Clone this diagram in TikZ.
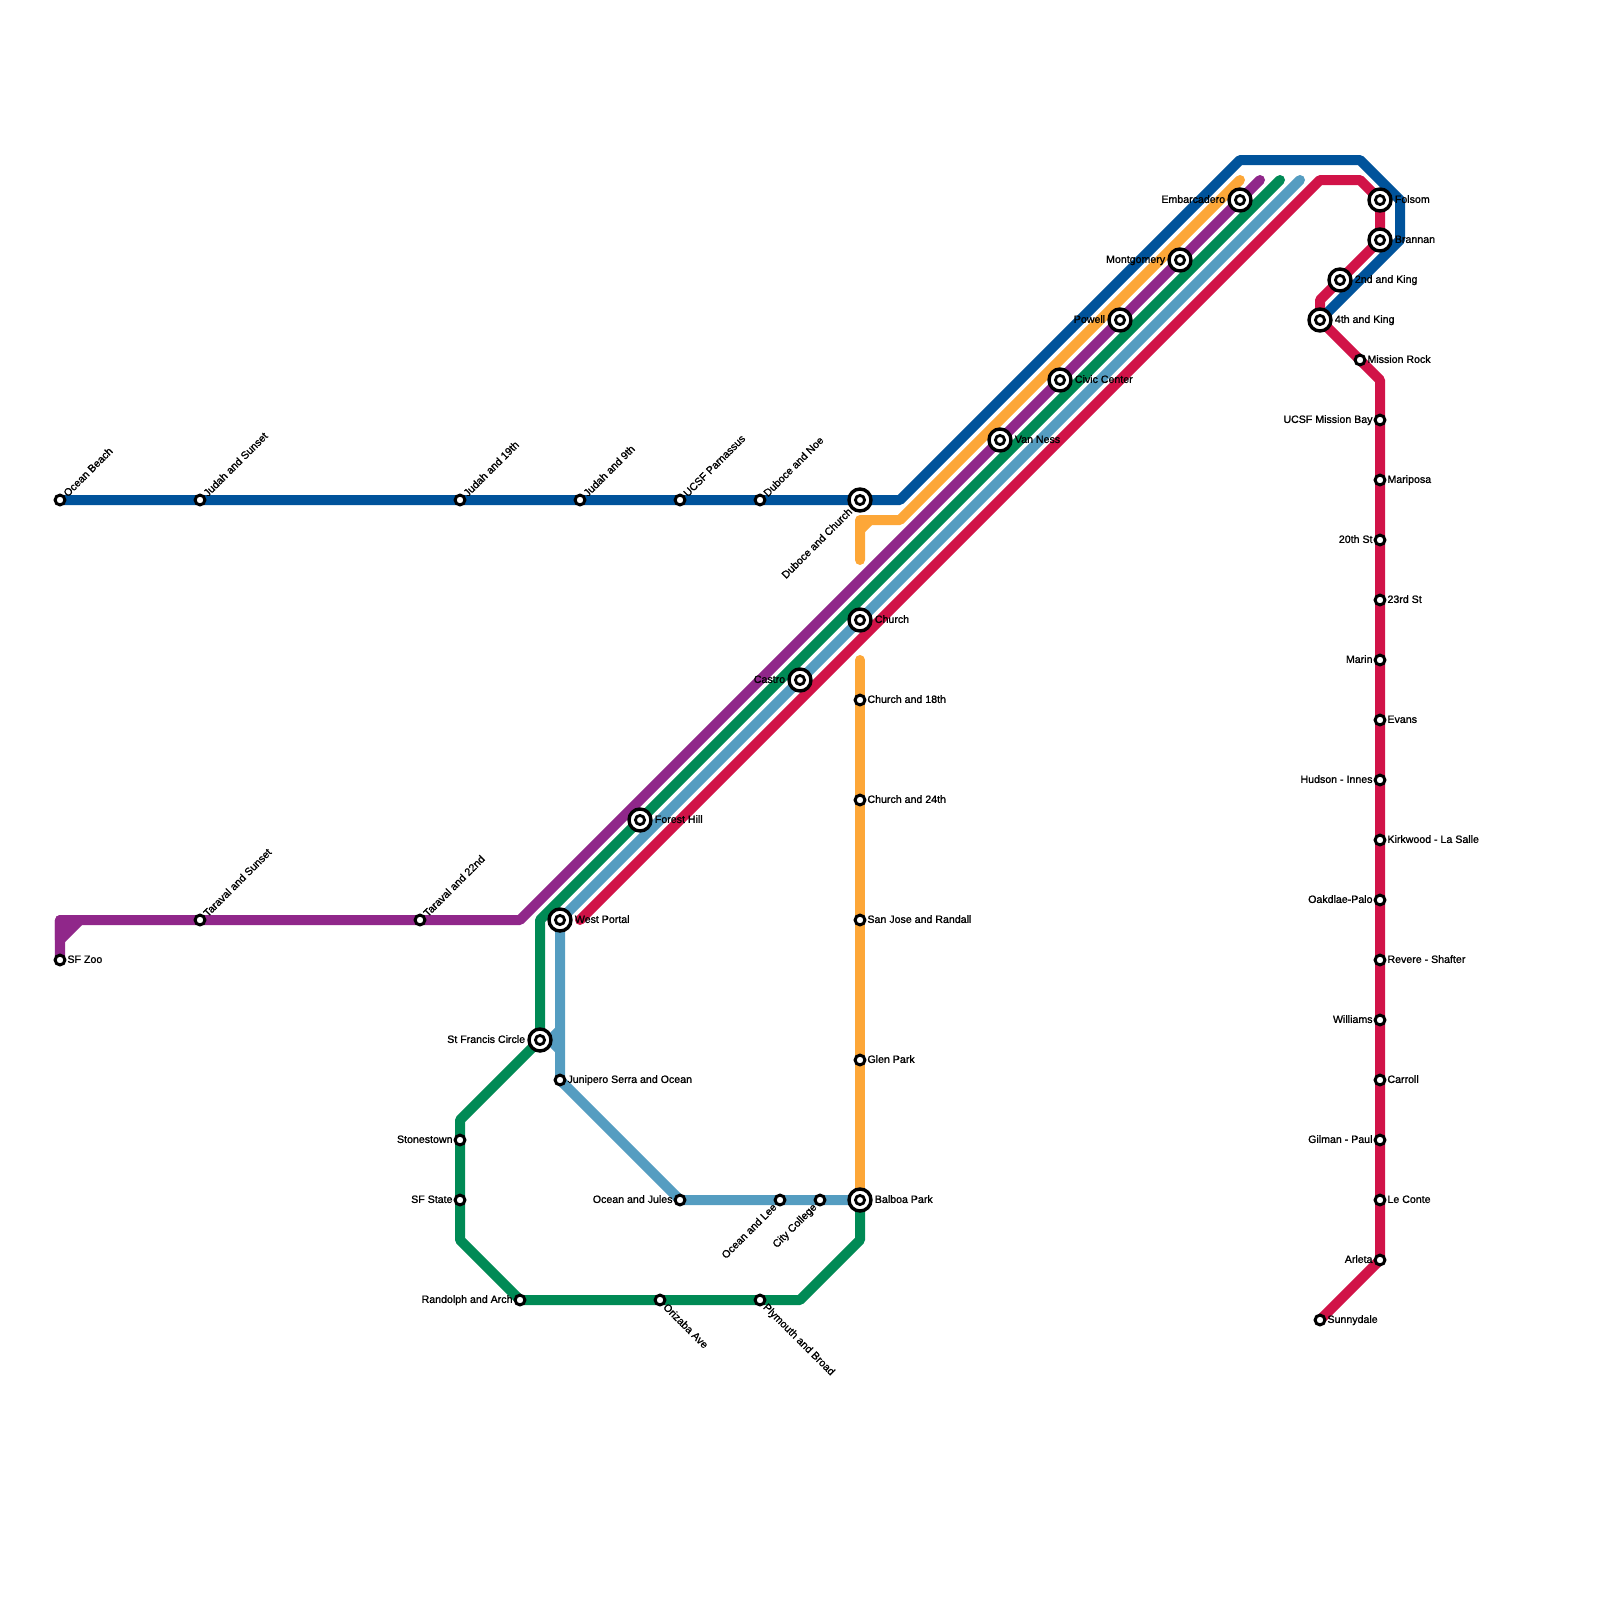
\documentclass[tikz,border=0pt]{standalone}
\usepackage{fontspec}
\usepackage{xcolor}
\usepackage{tikz}
\usetikzlibrary{backgrounds}
\setmainfont{Liberation Sans}
\newfontfamily\stnfont{Liberation Sans}[FakeBold=1.2]

\definecolor{lineN}{HTML}{00539B}
\definecolor{lineT}{HTML}{FDA738}
\definecolor{lineL}{HTML}{90278A}
\definecolor{lineM}{HTML}{008A55}
\definecolor{lineJ}{HTML}{559DC1}
\definecolor{lineK}{HTML}{D11348}

\tikzset{
  track/.style={line width=0.25cm, line cap=round, line join=round},
  stnsmall/.style={circle, draw=black, fill=white, line width=0.075cm, inner sep=0pt, outer sep=0pt, minimum size=0.245cm},
  stnbig/.style={circle, draw=black, fill=white, line width=0.085cm, inner sep=0pt, outer sep=0pt, minimum size=0.55cm,
    path picture={\draw[black, line width=0.07cm] (path picture bounding box.center) circle (0.115cm);}},
  lbl/.style={font=\stnfont\fontsize{7.55}{9}\selectfont, inner ysep=0pt, inner xsep=0.18cm},
  lblbig/.style={lbl, inner xsep=0.365cm},
  tor/.style={anchor=mid west, yshift=0.02cm},
  tol/.style={anchor=mid east, yshift=0.02cm},
  tone/.style={anchor=mid west, rotate=45},
  tosw/.style={anchor=mid east, rotate=45},
  tose/.style={anchor=mid west, rotate=-45},
}

\begin{document}
\begin{tikzpicture}[x=0.025cm, y=-0.025cm]
  \useasboundingbox (0,0) rectangle (1600,1600);

  % Judah branch
  \node[stnsmall] (oceanbeach) at (60,500) {}; \node[lbl,tone] (oceanbeachl) at (oceanbeach) {Ocean Beach};
  \node[stnsmall] (judahsunset) at (200,500) {}; \node[lbl,tone] (judahsunsetl) at (judahsunset) {Judah and Sunset};
  \node[stnsmall] (judah19) at (460,500) {}; \node[lbl,tone] (judah19l) at (judah19) {Judah and 19th};
  \node[stnsmall] (judah9) at (580,500) {}; \node[lbl,tone] (judah9l) at (judah9) {Judah and 9th};
  \node[stnsmall] (parnassus) at (680,500) {}; \node[lbl,tone] (parnassusl) at (parnassus) {UCSF Parnassus};
  \node[stnsmall] (dubocenoe) at (760,500) {}; \node[lbl,tone] (dubocenoel) at (dubocenoe) {Duboce and Noe};
  \node[stnbig] (dubocechurch) at (860,500) {}; \node[lblbig,tosw,inner xsep=0.34cm] (dubocechurchl) at (dubocechurch) {Duboce and Church};

  % Taraval branch
  \node[stnsmall] (sfzoo) at (60,960) {}; \node[lbl,tor] (sfzool) at (sfzoo) {SF Zoo};
  \node[stnsmall] (taravalsunset) at (200,920) {}; \node[lbl,tone] (taravalsunsetl) at (taravalsunset) {Taraval and Sunset};
  \node[stnsmall] (taraval22) at (420,920) {}; \node[lbl,tone] (taraval22l) at (taraval22) {Taraval and 22nd};

  % Market Street subway
  \node[stnbig] (westportal) at (560,920) {}; \node[lblbig,tor] (westportall) at (westportal) {West Portal};
  \node[stnbig] (foresthill) at (640,820) {}; \node[lblbig,tor] (foresthilll) at (foresthill) {Forest Hill};
  \node[stnbig] (castro) at (800,680) {}; \node[lblbig,tol] (castrol) at (castro) {Castro};
  \node[stnbig] (church) at (860,620) {}; \node[lblbig,tor] (churchl) at (church) {Church};
  \node[stnbig] (vanness) at (1000,440) {}; \node[lblbig,tor] (vannessl) at (vanness) {Van Ness};
  \node[stnbig] (civic) at (1060,380) {}; \node[lblbig,tor] (civicl) at (civic) {Civic Center};
  \node[stnbig] (powell) at (1120,320) {}; \node[lblbig,tol] (powelll) at (powell) {Powell};
  \node[stnbig] (montgomery) at (1180,260) {}; \node[lblbig,tol] (montgomeryl) at (montgomery) {Montgomery};
  \node[stnbig] (embarcadero) at (1240,200) {}; \node[lblbig,tol] (embarcaderol) at (embarcadero) {Embarcadero};

  % Waterfront
  \node[stnbig] (folsom) at (1380,200) {}; \node[lblbig,tor] (folsoml) at (folsom) {Folsom};
  \node[stnbig] (brannan) at (1380,240) {}; \node[lblbig,tor] (brannanl) at (brannan) {Brannan};
  \node[stnbig] (king2) at (1340,280) {}; \node[lblbig,tor] (king2l) at (king2) {2nd and King};
  \node[stnbig] (king4) at (1320,320) {}; \node[lblbig,tor] (king4l) at (king4) {4th and King};
  \node[stnsmall] (missionrock) at (1360,360) {}; \node[lbl,tor] (missionrockl) at (missionrock) {Mission Rock};

  % Third Street
  \node[stnsmall] (missionbay) at (1380,420) {}; \node[lbl,tol] (missionbayl) at (missionbay) {UCSF Mission Bay};
  \node[stnsmall] (mariposa) at (1380,480) {}; \node[lbl,tor] (mariposal) at (mariposa) {Mariposa};
  \node[stnsmall] (st20) at (1380,540) {}; \node[lbl,tol] (st20l) at (st20) {20th St};
  \node[stnsmall] (st23) at (1380,600) {}; \node[lbl,tor] (st23l) at (st23) {23rd St};
  \node[stnsmall] (marin) at (1380,660) {}; \node[lbl,tol] (marinl) at (marin) {Marin};
  \node[stnsmall] (evans) at (1380,720) {}; \node[lbl,tor] (evansl) at (evans) {Evans};
  \node[stnsmall] (hudson) at (1380,780) {}; \node[lbl,tol] (hudsonl) at (hudson) {Hudson - Innes};
  \node[stnsmall] (kirkwood) at (1380,840) {}; \node[lbl,tor] (kirkwoodl) at (kirkwood) {Kirkwood - La Salle};
  \node[stnsmall] (oakdale) at (1380,900) {}; \node[lbl,tol] (oakdalel) at (oakdale) {Oakdlae-Palo};
  \node[stnsmall] (revere) at (1380,960) {}; \node[lbl,tor] (reverel) at (revere) {Revere - Shafter};
  \node[stnsmall] (williams) at (1380,1020) {}; \node[lbl,tol] (williamsl) at (williams) {Williams};
  \node[stnsmall] (carroll) at (1380,1080) {}; \node[lbl,tor] (carrolll) at (carroll) {Carroll};
  \node[stnsmall] (gilman) at (1380,1140) {}; \node[lbl,tol] (gilmanl) at (gilman) {Gilman - Paul};
  \node[stnsmall] (leconte) at (1380,1200) {}; \node[lbl,tor] (lecontel) at (leconte) {Le Conte};
  \node[stnsmall] (arleta) at (1380,1260) {}; \node[lbl,tol] (arletal) at (arleta) {Arleta};
  \node[stnsmall] (sunnydale) at (1320,1320) {}; \node[lbl,tor] (sunnydalel) at (sunnydale) {Sunnydale};

  % Church Street
  \node[stnsmall] (church18) at (860,700) {}; \node[lbl,tor] (church18l) at (church18) {Church and 18th};
  \node[stnsmall] (church24) at (860,800) {}; \node[lbl,tor] (church24l) at (church24) {Church and 24th};
  \node[stnsmall] (sanjose) at (860,920) {}; \node[lbl,tor] (sanjosel) at (sanjose) {San Jose and Randall};
  \node[stnsmall] (glenpark) at (860,1060) {}; \node[lbl,tor] (glenparkl) at (glenpark) {Glen Park};
  \node[stnbig] (balboa) at (860,1200) {}; \node[lblbig,tor] (balboal) at (balboa) {Balboa Park};

  % Ocean Avenue
  \node[stnsmall] (junipero) at (560,1080) {}; \node[lbl,tor] (juniperol) at (junipero) {Junipero Serra and Ocean};
  \node[stnsmall] (jules) at (680,1200) {}; \node[lbl,tol] (julesl) at (jules) {Ocean and Jules};
  \node[stnsmall] (lee) at (780,1200) {}; \node[lbl,tosw] (leel) at (lee) {Ocean and Lee};
  \node[stnsmall] (college) at (820,1200) {}; \node[lbl,tosw] (collegel) at (college) {City College};

  % Southwest loop
  \node[stnbig] (stfrancis) at (540,1040) {}; \node[lblbig,tol] (stfrancisl) at (stfrancis) {St Francis Circle};
  \node[stnsmall] (stonestown) at (460,1140) {}; \node[lbl,tol] (stonestownl) at (stonestown) {Stonestown};
  \node[stnsmall] (sfstate) at (460,1200) {}; \node[lbl,tol] (sfstatel) at (sfstate) {SF State};
  \node[stnsmall] (randolph) at (520,1300) {}; \node[lbl,tol] (randolphl) at (randolph) {Randolph and Arch};
  \node[stnsmall] (orizaba) at (660,1300) {}; \node[lbl,tose] (orizabal) at (orizaba) {Orizaba Ave};
  \node[stnsmall] (plymouth) at (760,1300) {}; \node[lbl,tose] (plymouthl) at (plymouth) {Plymouth and Broad};

  % Bends and free ends
  \coordinate (nA) at (900,500);
  \coordinate (nB) at (1240,160);
  \coordinate (nC) at (1360,160);
  \coordinate (nD) at (1400,200);
  \coordinate (nE) at (1400,240);
  \coordinate (tA) at (860,560);
  \coordinate (tB) at (860,520);
  \coordinate (tC) at (900,520);
  \coordinate (tD) at (1240,180);
  \coordinate (tE) at (860,530);
  \coordinate (tF) at (870,520);
  \coordinate (tG) at (860,660);
  \coordinate (lA) at (60,920);
  \coordinate (lB) at (520,920);
  \coordinate (lC) at (1260,180);
  \coordinate (lD) at (60,940);
  \coordinate (lE) at (80,920);
  \coordinate (mA) at (1280,180);
  \coordinate (mB) at (540,920);
  \coordinate (mC) at (460,1120);
  \coordinate (mD) at (460,1240);
  \coordinate (mE) at (800,1300);
  \coordinate (mF) at (860,1240);
  \coordinate (jA) at (1300,180);
  \coordinate (jB) at (560,1030);
  \coordinate (jC) at (550,1040);
  \coordinate (jD) at (560,1050);
  \coordinate (kA) at (580,920);
  \coordinate (kB) at (1320,180);
  \coordinate (kC) at (1360,180);
  \coordinate (kD) at (1320,300);
  \coordinate (kE) at (1380,380);

  \begin{scope}[on background layer]
    % N
    \draw[track, lineN] (oceanbeach.center) -- (nA) -- (nB) -- (nC) -- (nD) -- (nE) -- (king4.center);
    % T
    \draw[track, lineT] (tA) -- (tB) -- (tC) -- (tD);
    \draw[line width=0.25cm, lineT] (tE) -- (tF);
    \draw[track, lineT] (tG) -- (balboa.center);
    % L
    \draw[track, lineL] (sfzoo.center) -- (lA) -- (lB) -- (lC);
    \filldraw[track, lineL] (lD) -- (lA) -- (lE) -- cycle;
    % M
    \draw[track, lineM] (mA) -- (mB) -- (stfrancis.center) -- (mC) -- (mD) -- (randolph.center) -- (mE) -- (mF) -- (balboa.center);
    % J
    \draw[track, lineJ] (jA) -- (westportal.center) -- (junipero.center) -- (jules.center) -- (balboa.center);
    \draw[line width=0.25cm, line join=round, lineJ] (jB) -- (jC) -- (jD);
    % K
    \draw[track, lineK] (kA) -- (kB) -- (kC) -- (folsom.center) -- (brannan.center) -- (kD) -- (king4.center) -- (kE) -- (arleta.center) -- (sunnydale.center);
  \end{scope}
\end{tikzpicture}
\end{document}
